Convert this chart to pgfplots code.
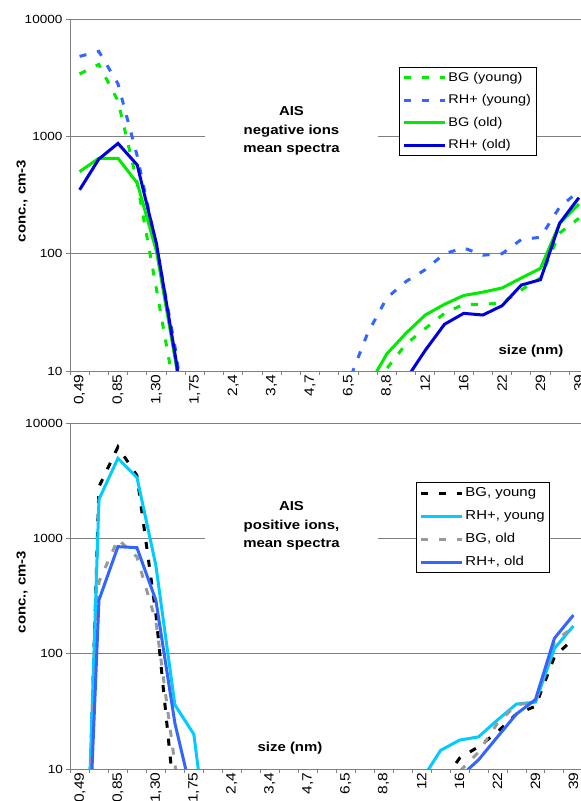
\documentclass[border=0pt]{standalone}
\usepackage{pgfplots}
\usepackage{pgfplotstable}
\pgfplotsset{compat=1.18}
\usepackage{fontspec}
\setmainfont{Liberation Sans}[FakeStretch=1.15]
\definecolor{cgreen}{RGB}{0,235,0}
\definecolor{clblue}{RGB}{51,102,255}
\definecolor{cdblue}{RGB}{0,0,220}
\definecolor{ccyan}{RGB}{0,204,255}
\definecolor{cgray}{RGB}{153,153,153}
\definecolor{gridc}{RGB}{128,128,128}

\pgfplotstableread{
i  bgy   rhy   bgo   rho
0  3400  4800  500   350
1  4100  5300  650   640
2  2000  2800  650   870
3  400   680   400   570
4  50    115   105   122
5  6     15    12    13
6  1     1     1     1
7  1     1     1     1
8  1     1     1     1
9  1     1     1     1
10 1     1     1     1
11 1     1     1     1
12 1     1     1     1
13 1     1     1     1
14 1     8     1     1
15 4     21    7.3   1
16 10.5  42    14    4
17 17    58    21    8.5
18 23    73    30    15
19 31    100   37    25
20 37    112   44    31
21 37    97    47    30
22 38    100   51    36
23 49    132   62    54
24 62    138   75    60
25 150   250   181   182
26 200   340   265   300
}\toptab

\pgfplotstableread{
i  bgy   rhy   bgo   rho
0  0.01  0.02  0.05  0.03
1  2800  2180  420   292
2  6200  4940  980   847
3  3500  3380  690   830
4  220   580   190   290
5  5     36    11    25
6  1     20    1     5
7  1     1     1     1
8  1     1     1     1
9  1     1     1     1
10 1     1     1     1
11 1     1     1     1
12 1     1     1     1
13 1     1     1     1
14 1     1     1     1
15 1     1     1     1
16 1     1     1     1
17 1     1     1     1
18 1     8     1     1
19 7.3   14.5  3     1
20 12.4  17.8  9.5   8.5
21 15.6  19    14    12
22 21    26.6  25    19
23 30    36.6  36    30
24 35    38    38    40
25 94    111   127   136
26 135   174   171   216
}\bottab

\tikzset{
  dsh/.style={line width=3pt, dash pattern=on 7pt off 11pt},
  sld/.style={line width=3pt},
}

\begin{document}
\begin{tikzpicture}
\path[use as bounding box] (0pt,0pt) rectangle (581pt,801pt);
\clip (0pt,0pt) rectangle (581pt,801pt);

\begin{axis}[scale only axis, anchor=south west,
    at={(70pt,430pt)}, width=511pt, height=352pt,
    xmin=-0.5, xmax=26.11,
    ymode=log, ymin=10, ymax=10000,
    ytick={10,100,1000,10000}, yticklabels={10,100,1000,10000},
    yminorticks=false,
    ymajorgrids, grid style={gridc, line width=0.9pt},
    axis x line*=bottom, axis y line*=left,
    axis line style={gridc, line width=0.9pt, -},
    tick style={gridc, line width=0.9pt},
    major tick length=4pt, tick align=outside,
    xtick={-0.5,0.5,...,25.5}, xticklabels={},
    extra x ticks={0,2,...,26},
    extra x tick labels={{0,49},{0,85},{1,30},{1,75},{2,4},{3,4},{4,7},{6,5},{8,8},12,16,22,29,39},
    extra x tick style={major tick length=0pt, grid=none,
      xticklabel style={rotate=90, anchor=east, font=\fontsize{13.5}{15}\selectfont}},
    ticklabel style={font=\fontsize{11.8}{13}\selectfont, black},
    legend cell align=left,
    legend image code/.code={\draw[#1] (0pt,0pt) -- (41pt,0pt);},
    legend style={draw=black, line width=0.7pt, fill=white,
      font=\fontsize{12.6}{15}\selectfont, inner xsep=3pt, inner ysep=2pt,
      nodes={inner sep=2pt, text height=10pt, text depth=3pt}, row sep=5.5pt,
      at={(0.644,0.864)}, anchor=north west}]
\addplot[cgreen, dsh] table[x=i, y=bgy]{\toptab};
\addlegendentry{BG (young)}
\addplot[clblue, dsh] table[x=i, y=rhy]{\toptab};
\addlegendentry{RH+ (young)}
\addplot[cgreen, sld] table[x=i, y=bgo]{\toptab};
\addlegendentry{BG (old)}
\addplot[cdblue, sld] table[x=i, y=rho]{\toptab};
\addlegendentry{RH+ (old)}
\end{axis}

\begin{axis}[scale only axis, anchor=south west,
    at={(70.5pt,32pt)}, width=510.5pt, height=346pt,
    xmin=-0.5, xmax=26.4,
    ymode=log, ymin=10, ymax=10000,
    ytick={10,100,1000,10000}, yticklabels={10,100,1000,10000},
    yminorticks=false,
    ymajorgrids, grid style={gridc, line width=0.9pt},
    axis x line*=bottom, axis y line*=left,
    axis line style={gridc, line width=0.9pt, -},
    tick style={gridc, line width=0.9pt},
    major tick length=4pt, tick align=outside,
    xtick={-0.5,0.5,...,25.5}, xticklabels={},
    extra x ticks={0,2,...,26},
    extra x tick labels={{0,49},{0,85},{1,30},{1,75},{2,4},{3,4},{4,7},{6,5},{8,8},12,16,22,29,39},
    extra x tick style={major tick length=0pt, grid=none,
      xticklabel style={rotate=90, anchor=east, font=\fontsize{13.5}{15}\selectfont}},
    ticklabel style={font=\fontsize{11.8}{13}\selectfont, black},
    legend cell align=left,
    legend image code/.code={\draw[#1] (0pt,0pt) -- (41pt,0pt);},
    legend style={draw=black, line width=0.7pt, fill=white,
      font=\fontsize{13}{15}\selectfont, inner xsep=3pt, inner ysep=2pt,
      nodes={inner sep=2pt, text height=10pt, text depth=3pt}, row sep=6pt,
      at={(0.677,0.829)}, anchor=north west}]
\addplot[black, dsh] table[x=i, y=bgy]{\bottab};
\addlegendentry{BG, young}
\addplot[ccyan, sld] table[x=i, y=rhy]{\bottab};
\addlegendentry{RH+, young}
\addplot[cgray, dsh] table[x=i, y=bgo]{\bottab};
\addlegendentry{BG, old}
\addplot[clblue, sld] table[x=i, y=rho]{\bottab};
\addlegendentry{RH+, old}
\end{axis}

\node[fill=white, inner sep=0pt, minimum width=173pt, minimum height=56pt, align=center,
  font=\bfseries\fontsize{13}{18.5}\selectfont] at (291.5pt,670pt) {AIS\\negative ions\\mean spectra};
\node[fill=white, inner sep=0pt, minimum width=173pt, minimum height=56pt, align=center,
  font=\bfseries\fontsize{13}{18.5}\selectfont] at (291.5pt,275pt) {AIS\\positive ions,\\mean spectra};
\node[font=\bfseries\fontsize{13}{15}\selectfont] at (531pt,450pt) {size (nm)};
\node[font=\bfseries\fontsize{13}{15}\selectfont] at (290pt,53pt) {size (nm)};
\node[rotate=90, font=\bfseries\fontsize{13}{15}\selectfont] at (22pt,600pt) {conc., cm-3};
\node[rotate=90, font=\bfseries\fontsize{13}{15}\selectfont] at (22pt,209pt) {conc., cm-3};
\end{tikzpicture}
\end{document}
